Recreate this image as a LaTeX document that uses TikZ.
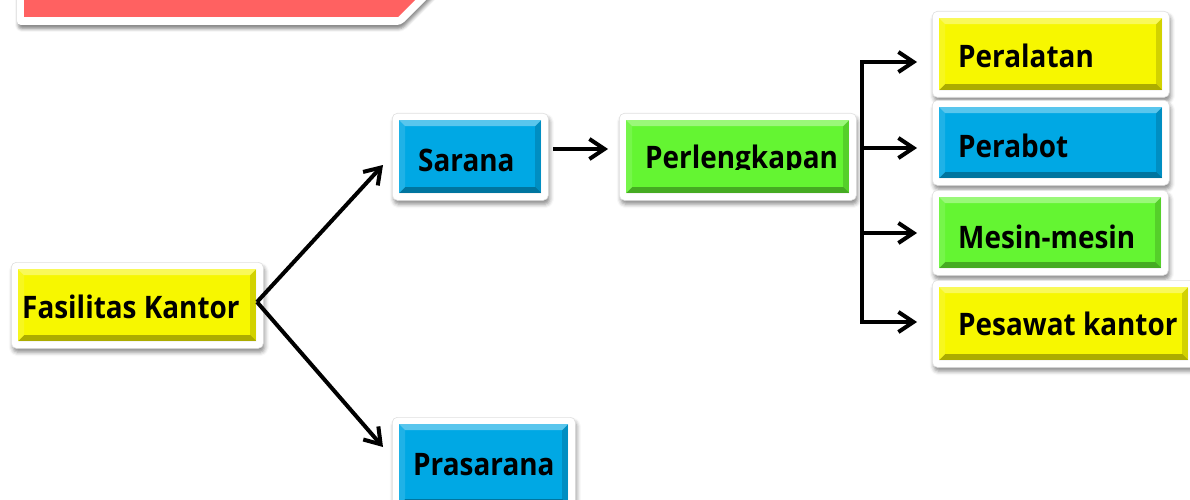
\documentclass[tikz,border=0pt]{standalone}
\usepackage{fontspec}
\setmainfont{Open Sans}
\newfontfamily\labfont{Open Sans}[FakeStretch=0.9]
\usetikzlibrary{arrows.meta,shadows.blur}
\definecolor{cyel}{RGB}{247,247,0}
\definecolor{cblu}{RGB}{0,168,228}
\definecolor{cgrn}{RGB}{100,245,50}
\definecolor{cred}{RGB}{255,97,97}
\tikzset{
  frame/.style={fill=white, draw=black!12, line width=0.6pt, rounded corners=5pt, inner sep=0pt, anchor=north west,
    blur shadow={shadow xshift=1.5pt, shadow yshift=-4pt, shadow blur radius=4pt, shadow opacity=45}},
  bevel/.style={fill=#1, inner sep=0pt, anchor=north west,
    path picture={
      \fill[white, opacity=0.35] (path picture bounding box.north west) -- (path picture bounding box.north east)
         -- ([xshift=-6pt,yshift=-6pt]path picture bounding box.north east) -- ([xshift=6pt,yshift=-6pt]path picture bounding box.north west) -- cycle;
      \fill[white, opacity=0.12] (path picture bounding box.north west) -- (path picture bounding box.south west)
         -- ([xshift=6pt,yshift=6pt]path picture bounding box.south west) -- ([xshift=6pt,yshift=-6pt]path picture bounding box.north west) -- cycle;
      \fill[black, opacity=0.30] (path picture bounding box.south west) -- (path picture bounding box.south east)
         -- ([xshift=-6pt,yshift=6pt]path picture bounding box.south east) -- ([xshift=6pt,yshift=6pt]path picture bounding box.south west) -- cycle;
      \fill[black, opacity=0.15] (path picture bounding box.north east) -- (path picture bounding box.south east)
         -- ([xshift=-6pt,yshift=6pt]path picture bounding box.south east) -- ([xshift=-6pt,yshift=-6pt]path picture bounding box.north east) -- cycle;
    }},
  lab/.style={anchor=base west, inner sep=0pt, font=\labfont\bfseries\fontsize{31}{31}\selectfont, text=black},
  ln/.style={line width=4pt, black},
  arr/.style={ln, -{Straight Barb[length=15pt,width=20pt]}},
}
\newcommand\bbox[6]{%
  \node[frame, minimum width={(#4-#2)*1pt}, minimum height={(#5-#3)*1pt}] (#1) at (#2,#3) {};
  \node[bevel=#6, minimum width={(#4-#2-14)*1pt}, minimum height={(#5-#3-14)*1pt}] (#1i) at ({#2+7},{#3+7}) {};
}
\begin{document}
\begin{tikzpicture}[x=1pt,y=-1pt]
\useasboundingbox (0,0) rectangle (1190,500);
% banner
\path[fill=white, blur shadow={shadow xshift=1pt, shadow yshift=-4pt, shadow blur radius=3pt, shadow opacity=45}]
  (17,-30) -- (17,21) [rounded corners=4pt] -- (17,25) -- (401,25) [sharp corners] -- (456,-30) -- cycle;
\fill[cred] (24,-30) -- (24,17) -- (398,17) -- (445,-30) -- cycle;
% boxes
\bbox{fk}{11}{262}{263}{348}{cyel}
\bbox{sar}{392}{113}{548}{200}{cblu}
\bbox{prs}{392}{417}{575}{512}{cblu}
\bbox{plk}{619}{113}{856}{200}{cgrn}
\bbox{pal}{932}{11}{1169}{97}{cyel}
\bbox{pbt}{932}{100}{1169}{185}{cblu}
\bbox{msn}{932}{190}{1168}{275}{cgrn}
\bbox{psw}{932}{280}{1195}{367}{cyel}
% labels
\node[lab] (tfk) at (22,318) {Fasilitas Kantor};
\node[lab] (tsar) at (418,171) {Sarana};
\node[lab] (tprs) at (413,475) {Prasarana};
\begin{scope}
\clip (600,100) rectangle (870,169);
\node[lab] (tplk) at (645,168) {Perlengkapan};
\end{scope}
\node[lab] (tpal) at (958,68) {Peralatan};
\node[lab] (tpbt) at (958,157) {Perabot};
\node[lab] (tmsn) at (958,248) {Mesin-mesin};
\node[lab] (tpsw) at (958,335) {Pesawat kantor};
% connector points
\coordinate (s0) at (257,302);
\coordinate (e1) at (383,165);
\coordinate (e2) at (383,447);
\coordinate (s3) at (553,149);
\coordinate (e3) at (608,149);
\coordinate (bt) at (862,62);
\coordinate (bb) at (862,322);
\coordinate (t1) at (917,62);
\coordinate (t2) at (917,148);
\coordinate (t3) at (917,233);
\coordinate (t4) at (917,322);
% connectors
\draw[arr] (s0) -- (e1);
\draw[arr] (s0) -- (e2);
\draw[arr] (s3) -- (e3);
\draw[ln, {Straight Barb[length=15pt,width=20pt]}-{Straight Barb[length=15pt,width=20pt]}] (t1) -- (bt) -- (bb) -- (t4);
\draw[arr] (bt |- t2) -- (t2);
\draw[arr] (bt |- t3) -- (t3);
\end{tikzpicture}
\end{document}
